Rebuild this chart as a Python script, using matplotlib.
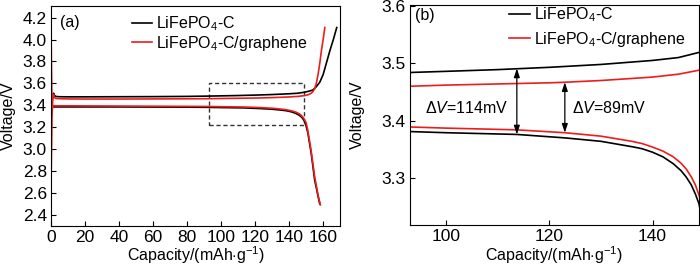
import matplotlib.pyplot as plt
from matplotlib.patches import Rectangle

plt.rcParams['font.family'] = ['Liberation Sans', 'DejaVu Sans']
plt.rcParams['mathtext.fontset'] = 'custom'
plt.rcParams['mathtext.rm'] = 'Liberation Sans'
plt.rcParams['mathtext.it'] = 'Liberation Sans:italic'
plt.rcParams['font.size'] = 11.5

# LiFePO4-C : charge / discharge
c_chg_x = [0.5, 1, 1.5, 2, 3, 5, 10, 20, 40, 60, 80, 93, 100, 110, 120, 130, 140, 145,
           149, 152, 154, 156, 158, 160, 162, 164, 166, 168]
c_chg_v = [3.43, 3.47, 3.51, 3.49, 3.48, 3.478, 3.477, 3.477, 3.478, 3.479, 3.481, 3.484,
           3.486, 3.489, 3.493, 3.498, 3.505, 3.51, 3.519, 3.53, 3.54, 3.57, 3.61, 3.68,
           3.79, 3.90, 4.0, 4.11]
c_dis_x = [0, 0.5, 1, 3, 10, 40, 80, 93, 100, 113.7, 123, 130, 136.4, 138, 140, 142, 144,
           145.5, 146.5, 147.5, 148.3, 149, 150, 151, 153, 155, 157, 158]
c_dis_v = [3.42, 3.39, 3.385, 3.385, 3.385, 3.385, 3.383, 3.381, 3.379, 3.376, 3.370,
           3.364, 3.354, 3.351, 3.345, 3.337, 3.325, 3.313, 3.302, 3.288, 3.272, 3.255,
           3.21, 3.15, 2.96, 2.72, 2.57, 2.5]

# LiFePO4-C/graphene : charge / discharge
g_chg_x = [0, 0.3, 0.6, 1, 1.5, 2, 3, 5, 10, 20, 40, 60, 80, 93, 100, 110, 120, 123, 130,
           140, 145, 149, 151, 153, 154, 155, 156, 157, 158, 159, 160, 161]
g_chg_v = [2.66, 3.0, 3.3, 3.45, 3.50, 3.47, 3.462, 3.46, 3.458, 3.457, 3.457, 3.458,
           3.459, 3.460, 3.462, 3.464, 3.466, 3.467, 3.47, 3.476, 3.481, 3.488, 3.495,
           3.51, 3.525, 3.55, 3.6, 3.68, 3.78, 3.9, 4.0, 4.11]
g_dis_x = [0, 0.3, 0.6, 1, 1.5, 3, 10, 40, 80, 93, 100, 113.7, 123, 130, 136, 138, 140,
           142, 144, 145.5, 146.5, 147.5, 148.3, 149, 150, 151, 153, 155, 157, 158.4]
g_dis_v = [4.08, 3.7, 3.37, 3.385, 3.395, 3.395, 3.395, 3.393, 3.39, 3.389, 3.387, 3.384,
           3.379, 3.373, 3.364, 3.36, 3.354, 3.347, 3.337, 3.326, 3.316, 3.302, 3.288,
           3.27, 3.24, 3.17, 2.98, 2.75, 2.58, 2.49]

labels = [r'LiFePO$_4$-C', r'LiFePO$_4$-C/graphene']
colors = ['black', '#ee1c1c']
xlabel = r'Capacity/(mAh$\cdot$g$^{-1}$)'

# polarization markers: (capacity, low V, high V, text)
gaps = [(113.7, 3.376, 3.491, r'$\Delta\mathit{V}$=114mV'),
        (123.0, 3.379, 3.467, r'$\Delta\mathit{V}$=89mV')]

zoom_x = (92.9, 149.0)
zoom_y = (3.219, 3.602)

fig = plt.figure(figsize=(7, 2.66), dpi=100)
ax1 = fig.add_axes([0.0729, 0.150, 0.413, 0.827])
ax2 = fig.add_axes([0.585, 0.156, 0.4136, 0.826])

for ax in (ax1, ax2):
    ax.plot(c_chg_x, c_chg_v, color=colors[0], lw=1.2, label=labels[0])
    ax.plot(c_dis_x, c_dis_v, color=colors[0], lw=1.2)
    ax.plot(g_chg_x, g_chg_v, color=colors[1], lw=1.2, label=labels[1])
    ax.plot(g_dis_x, g_dis_v, color=colors[1], lw=1.2)
    ax.tick_params(direction='in', length=3.5, labelsize=12.5, pad=3)
    ax.set_xlabel(xlabel, fontsize=11.5)
    ax.set_ylabel('Voltage/V', fontsize=11.5)

ax1.xaxis.set_label_coords(0.5, -0.085)
ax1.yaxis.set_label_coords(-0.123, 0.5)
ax2.xaxis.set_label_coords(0.5, -0.09)
ax2.yaxis.set_label_coords(-0.154, 0.5)

ax1.set_xlim(0, 170)
ax1.set_ylim(2.296, 4.306)
ax1.set_xticks(range(0, 161, 20))
ax1.set_yticks([2.4, 2.6, 2.8, 3.0, 3.2, 3.4, 3.6, 3.8, 4.0, 4.2])
ax1.add_patch(Rectangle((zoom_x[0], zoom_y[0]), zoom_x[1] - zoom_x[0], zoom_y[1] - zoom_y[0],
                        fill=False, ls=(0, (3, 2)), lw=1.0, ec='#333333'))
ax1.text(0.031, 0.927, '(a)', transform=ax1.transAxes, fontsize=11.5, va='center')
ax1.legend(loc='upper left', bbox_to_anchor=(0.279, 0.962), frameon=False, borderpad=0,
           borderaxespad=0, handlelength=1.3, handletextpad=0.25, labelspacing=0.05,
           fontsize=11.5)

ax2.set_xlim(*zoom_x)
ax2.set_ylim(*zoom_y)
ax2.set_xticks([100, 120, 140])
ax2.set_yticks([3.3, 3.4, 3.5, 3.6])
ax2.text(0.019, 0.953, '(b)', transform=ax2.transAxes, fontsize=11.5, va='center')
ax2.legend(loc='upper left', bbox_to_anchor=(0.344, 0.996), frameon=False, borderpad=0,
           borderaxespad=0, handlelength=1.3, handletextpad=0.25, labelspacing=0.35,
           fontsize=11.5)

for (x, lo, hi, txt), side in zip(gaps, ['right', 'left']):
    ax2.annotate('', xy=(x, lo), xytext=(x, hi),
                 arrowprops=dict(arrowstyle='<|-|>,head_length=0.45,head_width=0.15',
                                 color='black', lw=0.9, shrinkA=0, shrinkB=0))
    dx = -1.6 if side == 'right' else 1.4
    ax2.text(x + dx, 3.422, txt, ha=side, va='center', fontsize=11.5)

fig.savefig('out.png', dpi=100)
